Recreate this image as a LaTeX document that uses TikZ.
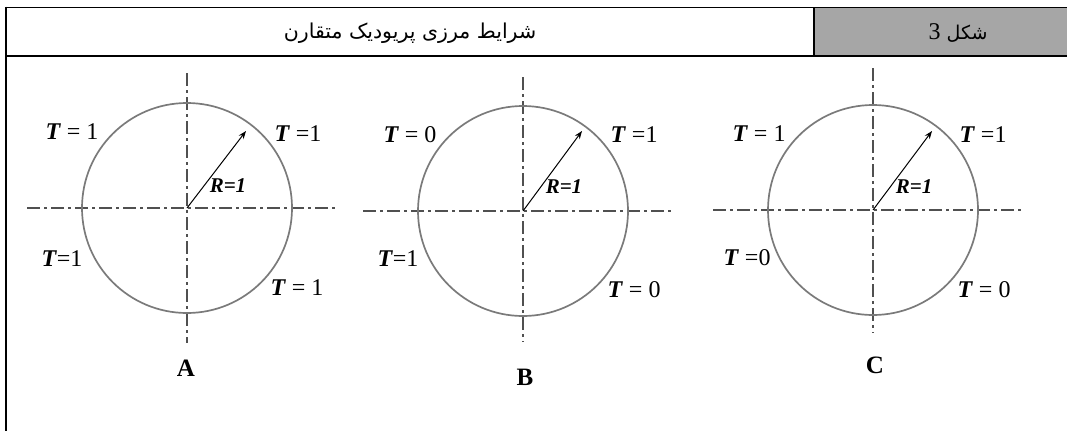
\documentclass[tikz,border=0pt]{standalone}
\usepackage{fontspec}
\setmainfont{Liberation Serif}
\newfontfamily\arabicfont[Script=Arabic]{DejaVu Sans}
\TeXXeTstate=1
\usetikzlibrary{arrows.meta}
\definecolor{cellgray}{HTML}{A6A6A6}
\definecolor{circgray}{HTML}{7A7A7A}
\definecolor{axisgray}{HTML}{505050}
\newcommand{\TT}{\textbf{\textit{T}}}
\tikzset{
  rule/.style={draw=black},
  axisline/.style={draw=axisgray, line width=1.6pt, dash pattern=on 13pt off 4pt on 3pt off 4pt},
  ring/.style={draw=circgray, line width=1.7pt},
  radius arrow/.style={draw=black, line width=1pt, -{Stealth[length=8pt,width=6pt]}},
  tlabel/.style={inner sep=0pt, font=\fontsize{24}{28}\selectfont},
  rlabel/.style={inner sep=0pt, font=\fontsize{21}{24}\selectfont\itshape\bfseries},
  panelname/.style={inner sep=0pt, font=\fontsize{25}{30}\selectfont\bfseries},
}
\begin{document}
\begin{tikzpicture}[x=1pt,y=-1pt]
\useasboundingbox (0,0) rectangle (1067,431);
% header table
\fill[cellgray] (814,7) rectangle (1067,56);
\draw[rule, line width=1pt] (6,7) -- (1067,7);
\draw[rule, line width=2.2pt] (6,56) -- (1067,56);
\draw[rule, line width=2.2pt] (6,6.5) -- (6,431);
\draw[rule, line width=1.6pt] (814,7) -- (814,56);
\node[inner sep=0pt, font=\arabicfont\fontsize{20.5}{24}\selectfont] (title) at (410,33) {\beginR شرایط مرزی پریودیک متقارن\endR};
\node[inner sep=0pt, font=\arabicfont\fontsize{19}{22}\selectfont] (fig) at (958,33) {\beginR شکل {\rmfamily\fontsize{24}{26}\selectfont 3}\endR};

% ---------- Panel A ----------
\coordinate (cA) at (187,208);
\coordinate (hAl) at (27,208); \coordinate (hAr) at (337,208);
\coordinate (vAt) at (187,73); \coordinate (vAb) at (187,343);
\coordinate (tipA) at (246,131);
\draw[axisline] (hAl) -- (hAr);
\draw[axisline] (vAt) -- (vAb);
\draw[ring] (cA) circle[radius=105];
\draw[radius arrow] (cA) -- (tipA);
\node[tlabel] (A1) at (72,132) {\TT{} = 1};
\node[tlabel] (A2) at (298,134) {\TT{} =1};
\node[rlabel] (AR) at (228,186) {R=1};
\node[tlabel] (A3) at (62,259) {\TT{}=1};
\node[tlabel] (A4) at (297,288) {\TT{} = 1};
\node[panelname] (An) at (186,368) {A};

% ---------- Panel B ----------
\coordinate (cB) at (523,211);
\coordinate (hBl) at (363,211); \coordinate (hBr) at (673,211);
\coordinate (vBt) at (523,77); \coordinate (vBb) at (523,342);
\coordinate (tipB) at (582,131);
\draw[axisline] (hBl) -- (hBr);
\draw[axisline] (vBt) -- (vBb);
\draw[ring] (cB) circle[radius=105];
\draw[radius arrow] (cB) -- (tipB);
\node[tlabel] (B1) at (410,135) {\TT{} = 0};
\node[tlabel] (B2) at (634,135) {\TT{} =1};
\node[rlabel] (BR) at (564,187) {R=1};
\node[tlabel] (B3) at (398,259) {\TT{}=1};
\node[tlabel] (B4) at (634,290) {\TT{} = 0};
\node[panelname] (Bn) at (525,377) {B};

% ---------- Panel C ----------
\coordinate (cC) at (873,210);
\coordinate (hCl) at (713,210); \coordinate (hCr) at (1023,210);
\coordinate (vCt) at (873,68); \coordinate (vCb) at (873,333);
\coordinate (tipC) at (932,131);
\draw[axisline] (hCl) -- (hCr);
\draw[axisline] (vCt) -- (vCb);
\draw[ring] (cC) circle[radius=105];
\draw[radius arrow] (cC) -- (tipC);
\node[tlabel] (C1) at (759,134) {\TT{} = 1};
\node[tlabel] (C2) at (983,135) {\TT{} =1};
\node[rlabel] (CR) at (914,187) {R=1};
\node[tlabel] (C3) at (747,258) {\TT{} =0};
\node[tlabel] (C4) at (984,290) {\TT{} = 0};
\node[panelname] (Cn) at (875,365) {C};
\end{tikzpicture}
\end{document}
